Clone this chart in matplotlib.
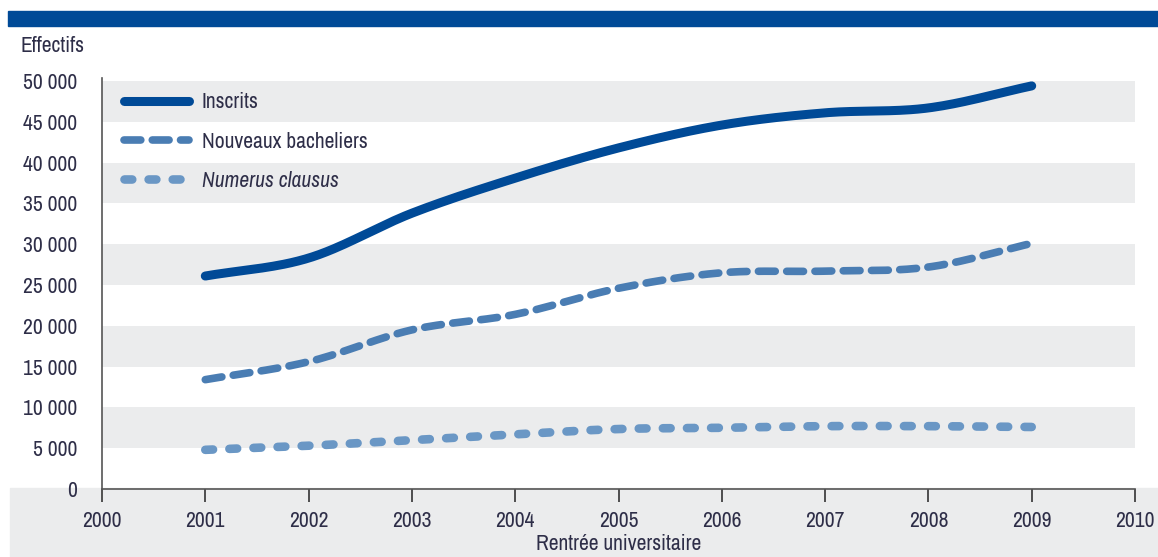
import numpy as np
import matplotlib.pyplot as plt
from matplotlib.patches import Rectangle
from matplotlib.ticker import FuncFormatter
from matplotlib import font_manager

years = [2001, 2002, 2003, 2004, 2005, 2006, 2007, 2008, 2009]
inscrits = [26100, 28300, 33800, 38100, 41800, 44600, 46100, 46700, 49400]
bacheliers = [13400, 15600, 19500, 21400, 24600, 26500, 26700, 27200, 30100]
numerus = [4800, 5300, 6000, 6700, 7350, 7500, 7700, 7700, 7600]

TXT = "#2e2e48"
names = sorted({f.name for f in font_manager.fontManager.ttflist})
narrow = [n for n in names if "Narrow" in n or "Condensed" in n]
fam = narrow[0] if narrow else "Liberation Sans"
plt.rcParams['font.family'] = [fam, 'DejaVu Sans']
FS = 15.5 if narrow else 13


def smooth(x, y, n=30):
    # Catmull-Rom spline, like the "smoothed line" option of office charts
    x = np.asarray(x, float)
    y = np.asarray(y, float)
    px = np.concatenate([[2 * x[0] - x[1]], x, [2 * x[-1] - x[-2]]])
    py = np.concatenate([[2 * y[0] - y[1]], y, [2 * y[-1] - y[-2]]])
    t = np.linspace(0, 1, n)
    xs, ys = [], []
    for i in range(1, len(px) - 2):
        for p, out in ((px, xs), (py, ys)):
            p0, p1, p2, p3 = p[i - 1], p[i], p[i + 1], p[i + 2]
            out.append(0.5 * (2 * p1 + (-p0 + p2) * t
                              + (2 * p0 - 5 * p1 + 4 * p2 - p3) * t ** 2
                              + (-p0 + 3 * p1 - 3 * p2 + p3) * t ** 3))
    return np.concatenate(xs), np.concatenate(ys)


fig = plt.figure(figsize=(11.58, 5.57), dpi=100)

# blue bar at top and grey strip under the axis
fig.patches.append(Rectangle((8 / 1158, 1 - 26 / 557), 1, 15 / 557,
                             transform=fig.transFigure, color="#004a97", zorder=-1))
fig.patches.append(Rectangle((10 / 1158, 0), 1, 69 / 557,
                             transform=fig.transFigure, color="#ebeced", zorder=-1))

ax = fig.add_axes([102 / 1158, 68 / 557, 1033 / 1158, 408 / 557])
ax.set_xlim(2000, 2010)
ax.set_ylim(0, 50000)

for lo in range(5000, 50000, 10000):
    ax.axhspan(lo, lo + 5000, color="#ebeced", lw=0, zorder=0)

x, y = smooth(years, inscrits)
ax.plot(x, y, color="#004a97", lw=6.5, solid_capstyle="round", label="Inscrits", zorder=3)
x, y = smooth(years, bacheliers)
ax.plot(x, y, color="#4a7db3", lw=5.5, dashes=(2.2, 1.5), dash_capstyle="round",
        label="Nouveaux bacheliers", zorder=3)
x, y = smooth(years, numerus)
ax.plot(x, y, color="#6a97c5", lw=6.2, dashes=(0.9, 1.9), dash_capstyle="round",
        label="Numerus clausus", zorder=3)

ax.set_xticks(range(2000, 2011))
ax.set_yticks(range(0, 50001, 5000))
ax.yaxis.set_major_formatter(FuncFormatter(lambda v, p: f"{int(v):,}".replace(",", " ")))
ax.set_yticks([0], minor=True)
ax.tick_params(axis="y", which="major", length=0, pad=18, labelsize=FS, labelcolor=TXT)
ax.tick_params(axis="y", which="minor", length=10, width=1.2, color="#444444")
ax.tick_params(axis="x", length=9, width=1.2, color="#333333", pad=7,
               labelsize=FS, labelcolor=TXT)
for s in ("top", "right"):
    ax.spines[s].set_visible(False)
for s in ("left", "bottom"):
    ax.spines[s].set_color("#555555")
    ax.spines[s].set_linewidth(1.2)
ax.spines["left"].set_bounds(-1400, 50400)
ax.patch.set_visible(False)

ax.set_xlabel("Rentrée universitaire", fontsize=FS, color=TXT, labelpad=2)
fig.text(20 / 1158, 1 - 46 / 557, "Effectifs", fontsize=FS, color=TXT, va="center")

leg = ax.legend(loc="upper left", bbox_to_anchor=(0.003, 1.02), frameon=False,
                fontsize=FS, handlelength=3.0, handletextpad=0.6, labelspacing=0.9,
                labelcolor=TXT)
leg.get_texts()[2].set_fontstyle("italic")

fig.savefig("out.png", dpi=100)
